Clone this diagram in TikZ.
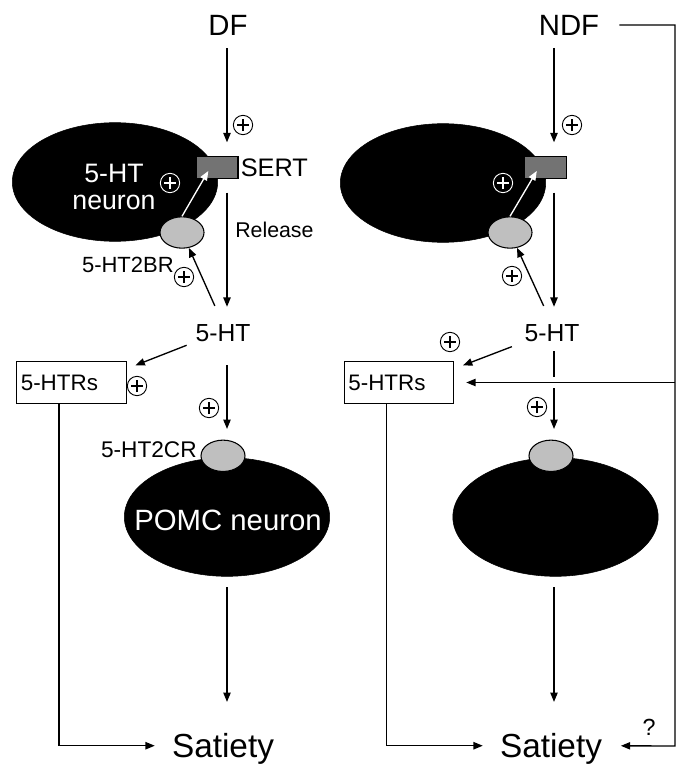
\documentclass[tikz,border=0pt]{standalone}
\usepackage{fontspec}
\setmainfont{Liberation Sans}
\usetikzlibrary{shapes.geometric, arrows.meta}
\tikzstyle{neuron} = [ellipse, 
minimum width=154pt, 
minimum height=89pt,
draw=black, 
fill=black]
\tikzstyle{receptor} = [ellipse, 
minimum width=33pt, 
minimum height=23.5pt, 
inner sep=0pt,
draw=black, 
line width=0.8pt,
fill=black!25]
\tikzstyle{sert} = [rectangle, 
minimum width=31.5pt, 
minimum height=16pt, 
inner sep=0pt,
draw=black, 
line width=0.8pt,
fill=black!55]
\tikzstyle{htrbox} = [rectangle, 
minimum width=82pt, 
minimum height=32pt,
text width=76pt,
inner xsep=3pt,
align=left,
draw=black, 
line width=0.9pt,
font=\fontsize{16.8}{19}\selectfont]
\tikzstyle{title} = [inner sep=0pt, font=\fontsize{22}{25}\selectfont]
\tikzstyle{endtxt} = [inner sep=0pt, font=\fontsize{25}{29}\selectfont]
\tikzstyle{midtxt} = [inner sep=0pt, font=\fontsize{18.5}{21}\selectfont]
\tikzstyle{celltxt} = [inner sep=0pt, text=white, align=center]
\tikzstyle{smalltxt} = [inner sep=0pt, font=\fontsize{17}{19}\selectfont]
\tikzstyle{pluscirc} = [circle, 
draw, 
line width=0.7pt, 
minimum size=14.5pt, 
inner sep=0pt,
path picture={\draw[line width=0.8pt]
 ([xshift=-4.5pt]path picture bounding box.center) -- ([xshift=4.5pt]path picture bounding box.center)
 ([yshift=-4.5pt]path picture bounding box.center) -- ([yshift=4.5pt]path picture bounding box.center);}]
\tikzstyle{arrow} = [line width=1pt,->,>={Triangle[length=7pt,width=5.5pt]}]
\tikzstyle{warrow} = [arrow, white]

\begin{document}
\begin{tikzpicture}[x=0.75pt, y=-0.75pt]
\useasboundingbox (0,0) rectangle (677,767);

% columns of the main arrows
\coordinate (c1) at (227,0);
\coordinate (c2) at (554,0);
\coordinate (rail) at (675,746);

% left: DF
\node (DF) [title] at (228,25.5) {DF};
\node (neuron1) [neuron] at (115,182) {};
\node (SERT1) [sert] at (217,167.5) {};
\node (SERTtxt) [midtxt, anchor=west, font=\fontsize{19}{21}\selectfont] at ([xshift=1.5pt]SERT1.east) {SERT};
\node (R2B1) [receptor] at (182,232.5) {};
\node (cell1) [celltxt, font=\fontsize{20}{20.5}\selectfont] at (114,187) {5-HT\\neuron};
\node (p1) [pluscirc] at (243,125) {};
\node (p2) [pluscirc, color=white] at (170,183) {};
\node (p3) [pluscirc] at (184,277) {};
\node (p4) [pluscirc] at (137,386) {};
\node (p5) [pluscirc] at (209,408) {};
\node (rel) [smalltxt, anchor=west, font=\fontsize{16}{18}\selectfont] at (235,230) {Release};
\node (R2Btxt) [smalltxt, anchor=east, font=\fontsize{16.5}{19}\selectfont] at (174,264.5) {5-HT2BR};
\node (HT1) [midtxt] at (223,333) {5-HT};
\node (HTRs1) [htrbox] at (71.5,382.5) {5-HTRs};
\node (POMC1) [neuron] at (227,517) {};
\node (R2C1) [receptor, anchor=south] at (223,472) {};
\node (R2Ctxt) [smalltxt, anchor=east] at (197,449.5) {5-HT2CR};
\node (POMCtxt) [celltxt, font=\fontsize{22}{24}\selectfont] at (228,520) {POMC neuron};
\node (Sat1) [endtxt, anchor=base] at (223,757) {Satiety};

\draw [arrow, shorten <=9.4pt, shorten >=10.5pt] (DF.south -| c1) -- (SERT1.north -| c1);
\draw [warrow, shorten >=3pt] (R2B1.north) -- ([xshift=-5pt]SERT1.center);
\draw [arrow, shorten <=10.5pt, shorten >=13pt] (SERT1.south -| c1) -- (HT1.north -| c1);
\draw [arrow, shorten <=15pt] (HT1.north) -- (R2B1);
\draw [arrow, shorten <=7pt, shorten >=7pt] (HT1.south west) -- (HTRs1.14);
\draw [arrow, shorten <=17.5pt, shorten >=8pt] (HT1.south -| c1) -- (R2C1.north -| c1);
\draw [arrow, shorten <=8pt, shorten >=23pt] (POMC1.south -| c1) -- (Sat1.north -| c1);
\draw [arrow, shorten >=12.75pt] ([xshift=32pt]HTRs1.south west) |- ([yshift=2pt]Sat1.west);

% right: NDF
\node (NDF) [title] at (569,25) {NDF};
\node (neuron2) [neuron] at (443,183) {};
\node (SERT2) [sert] at (545.5,167.5) {};
\node (R2B2) [receptor] at (510,232.5) {};
\node (q1) [pluscirc] at (572,125) {};
\node (q2) [pluscirc, color=white] at (503,183) {};
\node (q3) [pluscirc] at (512,276) {};
\node (q4) [pluscirc] at (450,342) {};
\node (q5) [pluscirc] at (537,407) {};
\node (HT2) [midtxt] at (552,333) {5-HT};
\node (HTRs2) [htrbox] at (399,382.5) {5-HTRs};
\node (POMC2) [neuron] at (555.5,517) {};
\node (R2C2) [receptor, anchor=south] at (551,472) {};
\node (Sat2) [endtxt, anchor=base] at (551,757) {Satiety};
\node (qm) [midtxt, font=\fontsize{17.5}{20}\selectfont] at (649,727.5) {?};
\coordinate (cross) at (c2 |- HTRs2.east);

\draw [arrow, shorten <=9.4pt, shorten >=10.5pt] (NDF.south -| c2) -- (SERT2.north -| c2);
\draw [warrow, shorten >=3pt] (R2B2.north) -- ([xshift=-5pt]SERT2.center);
\draw [arrow, shorten <=10.5pt, shorten >=13pt] (SERT2.south -| c2) -- (HT2.north -| c2);
\draw [arrow, shorten <=15pt] (HT2.north) -- (R2B2);
\draw [arrow, shorten <=10pt, shorten >=7pt] (HT2.south west) -- (HTRs2.14);
\draw [arrow, shorten <=7pt, shorten >=8pt] (HT2.south -| c2) -- (R2C2.north -| c2);
\draw [white, line width=3pt] ([yshift=4pt]cross) -- ([yshift=-4pt]cross);
\draw [arrow, shorten >=9pt] (rail |- HTRs2.east) -- (HTRs2.east);
\draw [arrow, shorten <=8pt, shorten >=23pt] (POMC2.south -| c2) -- (Sat2.north -| c2);
\draw [arrow, shorten >=12.75pt] ([xshift=32pt]HTRs2.south west) |- ([yshift=2pt]Sat2.west);
\draw [arrow, shorten <=15pt, shorten >=14pt] (NDF.east) -| (rail) -- ([yshift=2pt]Sat2.east);

\end{tikzpicture}
\end{document}
